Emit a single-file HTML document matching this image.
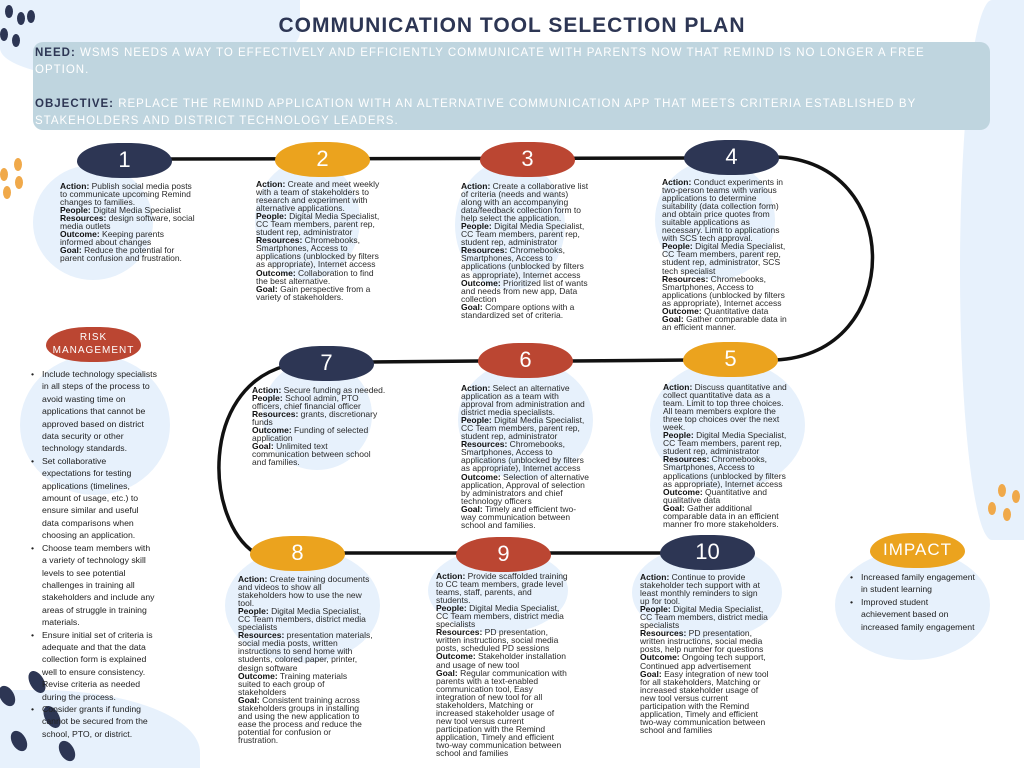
<!DOCTYPE html>
<html style="width:1024px;height:768px;overflow:hidden"><head><meta charset="utf-8">
<style>
*{margin:0;padding:0;box-sizing:border-box}
body{width:1024px;height:768px;position:relative;overflow:hidden;background:#fff;font-family:"Liberation Sans",sans-serif;color:#222}
.a{position:absolute}
.blob{position:absolute;background:#e7f1fc;border-radius:50%}
.pill{position:absolute;border-radius:45% 45% 48% 48%/55% 55% 50% 50%;color:#fff;font-size:22px;text-align:center;line-height:34px;height:35px;width:95px}
.n{background:#2d3654}.o{background:#eba31e}.r{background:#bb4632}
.t{position:absolute;font-size:8.5px;line-height:8.05px;white-space:nowrap;color:#2a2a2a}
.t b{color:#111}
.dot{position:absolute;border-radius:50%;width:8px;height:13px}
.bl{position:absolute;font-size:8.7px;line-height:12.4px;white-space:nowrap;color:#222}
.bl li{list-style:none;position:relative;padding-left:0}
.bl li:before{content:"•";position:absolute;left:-11px}
</style></head><body>
<div class="blob" style="left:0;top:0;width:300px;height:80px;border-radius:0 0 60% 40%"></div>
<div class="blob" style="left:960px;top:0;width:64px;height:540px;border-radius:50% 0 0 50%"></div>
<div class="blob" style="left:0;top:690px;width:200px;height:78px;border-radius:0 80% 0 0"></div>
<div class="blob" style="left:33px;top:165px;width:120px;height:115px"></div>
<div class="blob" style="left:255px;top:160px;width:105px;height:120px"></div>
<div class="blob" style="left:455px;top:160px;width:110px;height:130px"></div>
<div class="blob" style="left:655px;top:160px;width:120px;height:120px"></div>
<div class="blob" style="left:20px;top:355px;width:150px;height:140px"></div>
<div class="blob" style="left:262px;top:360px;width:110px;height:110px"></div>
<div class="blob" style="left:458px;top:360px;width:135px;height:120px"></div>
<div class="blob" style="left:650px;top:360px;width:155px;height:130px"></div>
<div class="blob" style="left:225px;top:548px;width:155px;height:115px"></div>
<div class="blob" style="left:428px;top:548px;width:140px;height:85px"></div>
<div class="blob" style="left:632px;top:545px;width:150px;height:95px"></div>
<div class="blob" style="left:835px;top:550px;width:155px;height:110px"></div>
<div class="dot" style="left:5px;top:5px;background:#2d3654"></div>
<div class="dot" style="left:17px;top:12px;background:#2d3654"></div>
<div class="dot" style="left:27px;top:10px;background:#2d3654"></div>
<div class="dot" style="left:0px;top:28px;background:#2d3654"></div>
<div class="dot" style="left:12px;top:34px;background:#2d3654"></div>
<div class="dot" style="left:14px;top:158px;background:#f0a94a"></div>
<div class="dot" style="left:0px;top:168px;background:#f0a94a"></div>
<div class="dot" style="left:15px;top:176px;background:#f0a94a"></div>
<div class="dot" style="left:3px;top:186px;background:#f0a94a"></div>
<div class="dot" style="left:998px;top:484px;background:#f0a94a"></div>
<div class="dot" style="left:1012px;top:490px;background:#f0a94a"></div>
<div class="dot" style="left:988px;top:502px;background:#f0a94a"></div>
<div class="dot" style="left:1003px;top:508px;background:#f0a94a"></div>
<div class="dot" style="left:30px;top:670px;width:14px;height:24px;background:#2d3654;transform:rotate(-30deg)"></div>
<div class="dot" style="left:0px;top:685px;width:14px;height:22px;background:#2d3654;transform:rotate(-30deg)"></div>
<div class="dot" style="left:45px;top:705px;width:14px;height:24px;background:#2d3654;transform:rotate(-30deg)"></div>
<div class="dot" style="left:12px;top:730px;width:14px;height:22px;background:#2d3654;transform:rotate(-30deg)"></div>
<div class="dot" style="left:60px;top:740px;width:14px;height:22px;background:#2d3654;transform:rotate(-30deg)"></div>

<div class="a" style="left:0;width:1024px;top:14px;text-align:center;font-size:21px;font-weight:bold;color:#2d3654;letter-spacing:1px">COMMUNICATION TOOL SELECTION PLAN</div>
<div class="a" style="left:33px;top:42px;width:957px;height:88px;background:#bfd5df;border-radius:10px"></div>
<div class="a" style="left:35px;top:45px;width:950px;font-size:11.5px;line-height:17px;color:#fff;letter-spacing:1px">
<span style="color:#2d3654;font-weight:bold">NEED:</span> WSMS NEEDS A WAY TO EFFECTIVELY AND EFFICIENTLY COMMUNICATE WITH PARENTS NOW THAT REMIND IS NO LONGER A FREE<br>OPTION.<br><br>
<span style="color:#2d3654;font-weight:bold">OBJECTIVE:</span> REPLACE THE REMIND APPLICATION WITH AN ALTERNATIVE COMMUNICATION APP THAT MEETS CRITERIA ESTABLISHED BY<br>STAKEHOLDERS AND DISTRICT TECHNOLOGY LEADERS.</div>

<svg class="a" style="left:0;top:0" width="1024" height="768">
<g fill="none" stroke="#111" stroke-width="3.5">
<path d="M165 159 L690 158"/>
<path d="M775 157 C905 160 905 355 775 360"/>
<path d="M370 362 L480 361"/>
<path d="M570 361 L690 360"/>
<path d="M285 366 C200 390 205 520 255 553"/>
<path d="M340 553 L460 553"/>
<path d="M548 553 L665 553"/>
</g></svg>

<div class="pill n" style="left:77px;top:143px">1</div>
<div class="pill o" style="left:275px;top:142px">2</div>
<div class="pill r" style="left:480px;top:142px">3</div>
<div class="pill n" style="left:684px;top:140px">4</div>
<div class="pill n" style="left:279px;top:346px">7</div>
<div class="pill r" style="left:478px;top:343px">6</div>
<div class="pill o" style="left:683px;top:342px">5</div>
<div class="pill o" style="left:250px;top:536px">8</div>
<div class="pill r" style="left:456px;top:537px">9</div>
<div class="pill n" style="left:660px;top:535px">10</div>
<div class="pill r" style="left:46px;top:327px;font-size:10px;line-height:13px;padding-top:4px;letter-spacing:1px">RISK<br>MANAGEMENT</div>
<div class="pill o" style="left:870px;top:533px;font-size:17px;letter-spacing:1px">IMPACT</div>

<div class="t" style="left:60px;top:182px"><b>Action:</b> Publish social media posts<br>to communicate upcoming Remind<br>changes to families.<br><b>People:</b> Digital Media Specialist<br><b>Resources:</b> design software, social<br>media outlets<br><b>Outcome:</b> Keeping parents<br>informed about changes<br><b>Goal:</b> Reduce the potential for<br>parent confusion and frustration.</div>
<div class="t" style="left:256px;top:180px"><b>Action:</b> Create and meet weekly<br>with a team of stakeholders to<br>research and experiment with<br>alternative applications.<br><b>People:</b> Digital Media Specialist,<br>CC Team members, parent rep,<br>student rep, administrator<br><b>Resources:</b> Chromebooks,<br>Smartphones, Access to<br>applications (unblocked by filters<br>as appropriate), Internet access<br><b>Outcome:</b> Collaboration to find<br>the best alternative.<br><b>Goal:</b> Gain perspective from a<br>variety of stakeholders.</div>
<div class="t" style="left:461px;top:182px"><b>Action:</b> Create a collaborative list<br>of criteria (needs and wants)<br>along with an accompanying<br>data/feedback collection form to<br>help select the application.<br><b>People:</b> Digital Media Specialist,<br>CC Team members, parent rep,<br>student rep, administrator<br><b>Resources:</b> Chromebooks,<br>Smartphones, Access to<br>applications (unblocked by filters<br>as appropriate), Internet access<br><b>Outcome:</b> Prioritized list of wants<br>and needs from new app, Data<br>collection<br><b>Goal:</b> Compare options with a<br>standardized set of criteria.</div>
<div class="t" style="left:662px;top:178px"><b>Action:</b> Conduct experiments in<br>two-person teams with various<br>applications to determine<br>suitability (data collection form)<br>and obtain price quotes from<br>suitable applications as<br>necessary. Limit to applications<br>with SCS tech approval.<br><b>People:</b> Digital Media Specialist,<br>CC Team members, parent rep,<br>student rep, administrator, SCS<br>tech specialist<br><b>Resources:</b> Chromebooks,<br>Smartphones, Access to<br>applications (unblocked by filters<br>as appropriate), Internet access<br><b>Outcome:</b> Quantitative data<br><b>Goal:</b> Gather comparable data in<br>an efficient manner.</div>
<div class="t" style="left:252px;top:386px"><b>Action:</b> Secure funding as needed.<br><b>People:</b> School admin, PTO<br>officers, chief financial officer<br><b>Resources:</b> grants, discretionary<br>funds<br><b>Outcome:</b> Funding of selected<br>application<br><b>Goal:</b> Unlimited text<br>communication between school<br>and families.</div>
<div class="t" style="left:461px;top:384px"><b>Action:</b> Select an alternative<br>application as a team with<br>approval from administration and<br>district media specialists.<br><b>People:</b> Digital Media Specialist,<br>CC Team members, parent rep,<br>student rep, administrator<br><b>Resources:</b> Chromebooks,<br>Smartphones, Access to<br>applications (unblocked by filters<br>as appropriate), Internet access<br><b>Outcome:</b> Selection of alternative<br>application, Approval of selection<br>by administrators and chief<br>technology officers<br><b>Goal:</b> Timely and efficient two-<br>way communication between<br>school and families.</div>
<div class="t" style="left:663px;top:383px"><b>Action:</b> Discuss quantitative and<br>collect quantitative data as a<br>team. Limit to top three choices.<br>All team members explore the<br>three top choices over the next<br>week.<br><b>People:</b> Digital Media Specialist,<br>CC Team members, parent rep,<br>student rep, administrator<br><b>Resources:</b> Chromebooks,<br>Smartphones, Access to<br>applications (unblocked by filters<br>as appropriate), Internet access<br><b>Outcome:</b> Quantitative and<br>qualitative data<br><b>Goal:</b> Gather additional<br>comparable data in an efficient<br>manner fro more stakeholders.</div>
<div class="t" style="left:238px;top:575px"><b>Action:</b> Create training documents<br>and videos to show all<br>stakeholders how to use the new<br>tool.<br><b>People:</b> Digital Media Specialist,<br>CC Team members, district media<br>specialists<br><b>Resources:</b> presentation materials,<br>social media posts, written<br>instructions to send home with<br>students, colored paper, printer,<br>design software<br><b>Outcome:</b> Training materials<br>suited to each group of<br>stakeholders<br><b>Goal:</b> Consistent training across<br>stakeholders groups in installing<br>and using the new application to<br>ease the process and reduce the<br>potential for confusion or<br>frustration.</div>
<div class="t" style="left:436px;top:572px"><b>Action:</b> Provide scaffolded training<br>to CC team members, grade level<br>teams, staff, parents, and<br>students.<br><b>People:</b> Digital Media Specialist,<br>CC Team members, district media<br>specialists<br><b>Resources:</b> PD presentation,<br>written instructions, social media<br>posts, scheduled PD sessions<br><b>Outcome:</b> Stakeholder installation<br>and usage of new tool<br><b>Goal:</b> Regular communication with<br>parents with a text-enabled<br>communication tool, Easy<br>integration of new tool for all<br>stakeholders, Matching or<br>increased stakeholder usage of<br>new tool versus current<br>participation with the Remind<br>application, Timely and efficient<br>two-way communication between<br>school and families</div>
<div class="t" style="left:640px;top:573px"><b>Action:</b> Continue to provide<br>stakeholder tech support with at<br>least monthly reminders to sign<br>up for tool.<br><b>People:</b> Digital Media Specialist,<br>CC Team members, district media<br>specialists<br><b>Resources:</b> PD presentation,<br>written instructions, social media<br>posts, help number for questions<br><b>Outcome:</b> Ongoing tech support,<br>Continued app advertisement<br><b>Goal:</b> Easy integration of new tool<br>for all stakeholders, Matching or<br>increased stakeholder usage of<br>new tool versus current<br>participation with the Remind<br>application, Timely and efficient<br>two-way communication between<br>school and families</div>

<ul class="bl" style="left:42px;top:368px">
<li>Include technology specialists<br>in all steps of the process to<br>avoid wasting time on<br>applications that cannot be<br>approved based on district<br>data security or other<br>technology standards.</li>
<li>Set collaborative<br>expectations for testing<br>applications (timelines,<br>amount of usage, etc.) to<br>ensure similar and useful<br>data comparisons when<br>choosing an application.</li>
<li>Choose team members with<br>a variety of technology skill<br>levels to see potential<br>challenges in training all<br>stakeholders and include any<br>areas of struggle in training<br>materials.</li>
<li>Ensure initial set of criteria is<br>adequate and that the data<br>collection form is explained<br>well to ensure consistency.<br>Revise criteria as needed<br>during the process.</li>
<li>Consider grants if funding<br>cannot be secured from the<br>school, PTO, or district.</li>
</ul>
<ul class="bl" style="left:861px;top:571px">
<li>Increased family engagement<br>in student learning</li>
<li>Improved student<br>achievement based on<br>increased family engagement</li>
</ul>
</body></html>
